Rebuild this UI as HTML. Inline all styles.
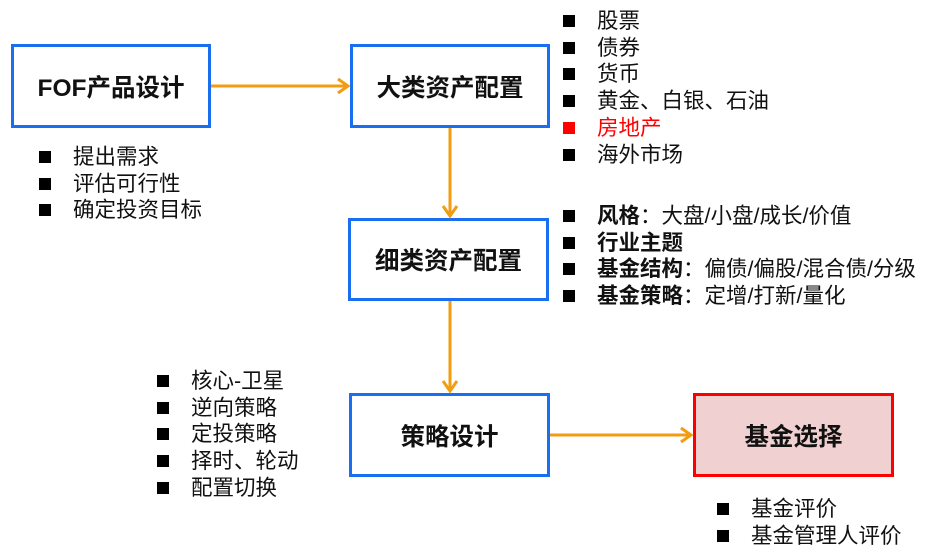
<!DOCTYPE html>
<html><head><meta charset="utf-8"><style>
body{margin:0;width:939px;height:555px;background:#fff;position:relative;overflow:hidden;font-family:"Liberation Sans","Noto Sans CJK SC",sans-serif;}
.box{position:absolute;box-sizing:border-box;border:3px solid #1a6ff0;background:#fff;display:flex;align-items:center;justify-content:center;font-weight:bold;font-size:24.5px;color:#111;}
.l{position:absolute;font-size:21.5px;color:#111;line-height:26.7px;white-space:nowrap;}
.l div{position:relative;padding-left:34px}
.l div:before{content:"";position:absolute;left:0;width:12px;height:12px;background:#000;top:7px;}
.l div.r:before{background:#f00}
</style></head><body>
<div class="box" style="left:11px;top:44px;width:200px;height:84px">FOF产品设计</div>
<div class="box" style="left:350px;top:44px;width:200px;height:84px">大类资产配置</div>
<div class="box" style="left:348px;top:218px;width:201px;height:83px">细类资产配置</div>
<div class="box" style="left:349px;top:393px;width:201px;height:84px">策略设计</div>
<div class="box" style="left:693px;top:393px;width:201px;height:84px;border-color:#f00;background:#f0d0d0">基金选择</div>
<svg width="939" height="555" style="position:absolute;left:0;top:0">
<g stroke="#f29c12" stroke-width="3" fill="none">
<line x1="211" y1="86" x2="348" y2="86"/><polyline points="338,79 348,86 338,93"/>
<line x1="450" y1="128" x2="450" y2="216"/><polyline points="443,206 450,216 457,206"/>
<line x1="450" y1="301" x2="450" y2="391"/><polyline points="443,381 450,391 457,381"/>
<line x1="550" y1="435" x2="691" y2="435"/><polyline points="681,428 691,435 681,442"/>
</g></svg>
<div class="l" style="left:563px;top:8px">
<div>股票</div><div>债券</div><div>货币</div><div>黄金、白银、石油</div><div class="r" style="color:#f00">房地产</div><div>海外市场</div></div>
<div class="l" style="left:563px;top:203px">
<div><b>风格</b>：大盘/小盘/成长/价值</div><div><b>行业主题</b></div><div><b>基金结构</b>：偏债/偏股/混合债/分级</div><div><b>基金策略</b>：定增/打新/量化</div></div>
<div class="l" style="left:39px;top:144px"><div>提出需求</div><div>评估可行性</div><div>确定投资目标</div></div>
<div class="l" style="left:157px;top:368px"><div>核心-卫星</div><div>逆向策略</div><div>定投策略</div><div>择时、轮动</div><div>配置切换</div></div>
<div class="l" style="left:717px;top:496px"><div>基金评价</div><div>基金管理人评价</div></div>
</body></html>
